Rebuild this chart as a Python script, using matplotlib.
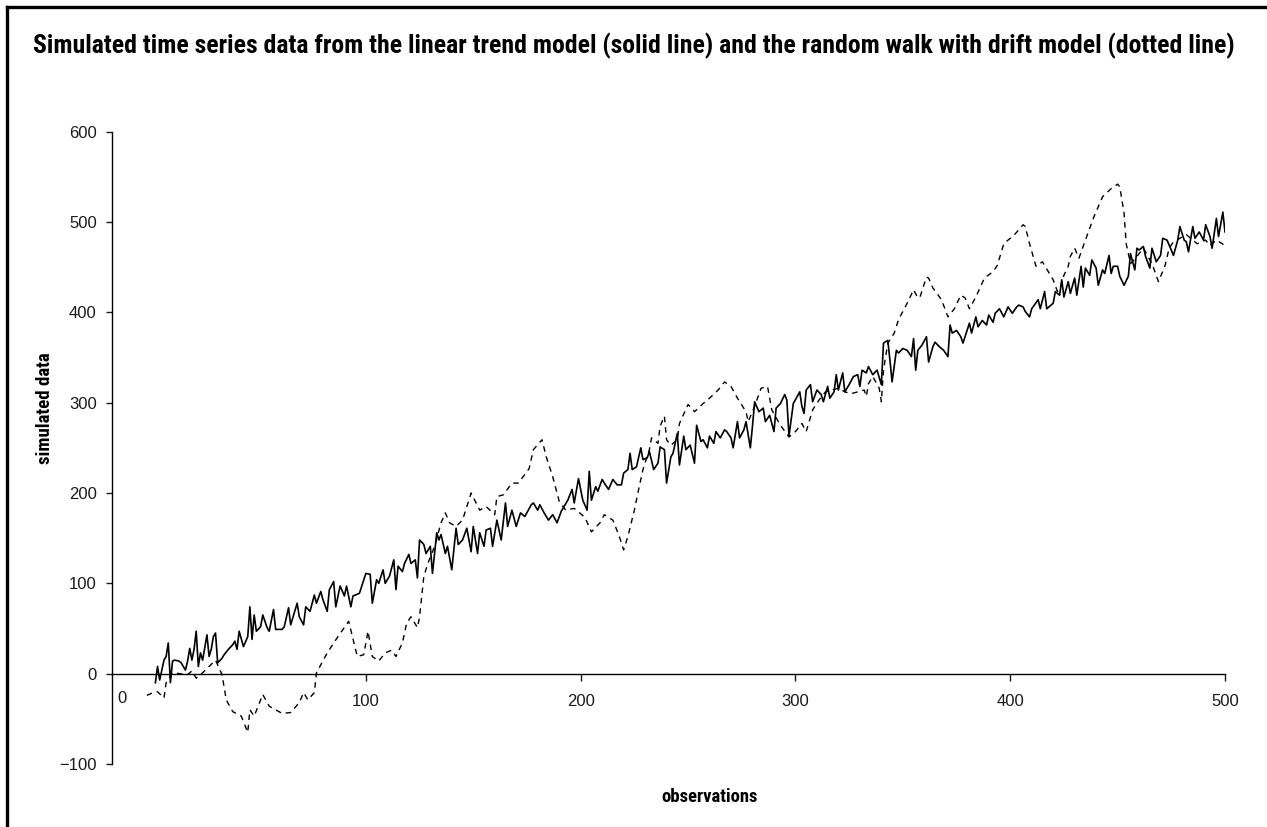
import matplotlib
matplotlib.use("Agg")
import matplotlib.pyplot as plt
from matplotlib import font_manager
from matplotlib.lines import Line2D

# values
trend_obs = [2, 3, 4, 5, 6, 7, 8, 9, 10, 11, 13, 14, 16, 17, 18, 19, 20, 21, 22, 23, 24, 26, 27, 28, 29, 30,
             31, 33, 34, 36, 38, 39, 40, 41, 43, 45, 46, 47, 48, 49, 51, 52, 54, 55, 57, 58, 61, 62, 64, 65,
             68, 69, 71, 72, 74, 76, 77, 79, 80, 82, 83, 85, 86, 88, 90, 91, 93, 94, 97,
             100, 102, 103, 105, 106, 108, 109, 111, 113, 114, 115, 117, 118, 120, 121, 123, 124, 125, 127,
             128, 130, 131, 133, 134, 135, 137, 138, 140, 142, 143, 145, 147, 149, 150, 152, 153, 155, 156,
             158, 159, 161, 163, 165, 166, 168, 170, 172, 174, 177, 178, 180, 181, 183, 185, 187, 189, 191,
             194, 196, 197, 199,
             201, 203, 204, 205, 207, 208, 210, 211, 213, 215, 217, 219, 220, 222, 223, 224, 226, 228, 229,
             231, 232, 234, 236, 237, 239, 240, 242, 243, 245, 246, 248, 249, 251, 253, 254, 256, 257, 259,
             260, 262, 263, 265, 267, 268, 270, 271, 273, 274, 276, 277, 279, 280, 281, 283, 285, 286, 288,
             290, 291, 293, 295, 296, 297, 299,
             302, 303, 304, 305, 307, 308, 310, 312, 313, 315, 316, 318, 319, 320, 322, 323, 325, 327, 329,
             330, 331, 333, 334, 336, 338, 340, 341, 343, 344, 345, 347, 348, 350, 352, 354, 355, 356, 357,
             359, 361, 362, 364, 365, 367, 369, 371, 372, 373, 375, 377, 378, 381, 382, 384, 385, 387, 389,
             390, 392, 393, 395, 397,
             399, 401, 403, 404, 406, 407, 409, 410, 413, 414, 416, 417, 420, 421, 423, 424, 425, 427, 428,
             430, 431, 433, 434, 435, 437, 438, 440, 441, 443, 444, 446, 447, 448, 450, 451, 453, 455, 456,
             458, 459, 460, 462, 463, 465, 466, 468, 470, 471, 473, 475, 476, 478, 479, 481, 482, 483, 485,
             486, 488, 490, 491, 493, 494, 496, 497, 499, 500]
trend_vals = [-10, 8, -7, 4, 15, 19, 34, -10, 14, 15, 14, 12, 4, 14, 28, 15, 27, 47, 8, 23, 15, 43, 19, 27, 41, 45,
              12, 17, 21, 27, 32, 36, 27, 47, 30, 41, 74, 38, 65, 47, 52, 65, 51, 47, 71, 49, 49, 52, 73, 54,
              78, 63, 54, 74, 69, 87, 78, 91, 82, 69, 93, 102, 74, 97, 86, 97, 74, 86, 89,
              111, 110, 78, 104, 100, 115, 100, 108, 126, 93, 119, 113, 122, 132, 122, 126, 106, 148, 143,
              133, 141, 111, 156, 148, 154, 133, 141, 115, 161, 143, 148, 161, 135, 163, 133, 156, 141, 159,
              161, 141, 170, 148, 189, 163, 181, 163, 178, 174, 187, 189, 181, 187, 178, 170, 176, 167, 180,
              192, 204, 189, 216,
              192, 181, 224, 192, 207, 202, 215, 211, 204, 215, 209, 209, 222, 226, 244, 226, 229, 250, 237,
              239, 246, 226, 233, 251, 248, 211, 240, 244, 266, 231, 263, 248, 253, 233, 275, 257, 259, 250,
              263, 255, 268, 261, 270, 268, 261, 250, 279, 261, 270, 279, 250, 274, 301, 290, 294, 279, 286,
              268, 294, 299, 309, 303, 263, 299,
              312, 296, 288, 314, 320, 301, 314, 309, 301, 318, 305, 312, 331, 314, 333, 312, 320, 329, 331,
              318, 336, 333, 340, 331, 336, 320, 366, 369, 347, 323, 358, 355, 360, 358, 351, 371, 336, 358,
              364, 373, 345, 362, 367, 362, 358, 351, 386, 377, 380, 373, 366, 388, 377, 395, 384, 391, 386,
              397, 389, 399, 404, 395,
              406, 399, 406, 408, 406, 401, 395, 404, 414, 404, 423, 404, 410, 423, 419, 436, 417, 434, 421,
              438, 419, 451, 428, 449, 441, 458, 449, 430, 447, 443, 463, 443, 451, 451, 440, 430, 440, 465,
              447, 471, 469, 473, 462, 449, 471, 456, 463, 482, 480, 469, 463, 480, 495, 480, 478, 467, 495,
              482, 489, 480, 497, 484, 471, 504, 484, 511, 489]

walk_obs = [-2, 1, 3, 6, 7, 10, 17, 19, 21, 24, 30, 33, 35, 38, 42, 45, 46, 48, 52, 55, 61, 65, 69, 71, 73,
            76, 77, 82, 87, 92, 96, 99, 101, 103, 106, 109, 112, 114, 117, 119, 121, 124, 125, 127, 129, 132,
            135, 137, 139, 142, 145, 149, 153, 156, 160, 161, 164, 168, 171, 176, 178, 182, 184, 187, 190,
            193, 197, 202, 205, 209, 211, 215, 218, 220, 222, 225, 227, 229, 232, 233, 236, 237, 239, 240,
            242, 245, 246, 250, 253, 257, 260, 264, 267, 270, 273, 277, 278, 281, 284, 287, 289, 293, 297,
            300, 303, 305, 308, 311, 314, 317, 320, 323, 326, 329, 332, 333, 334, 336, 339, 340, 341, 343,
            346, 348, 352, 355, 357, 358, 361, 362, 364, 368, 371, 374, 377, 379, 381, 384, 388, 392, 394,
            397, 399, 402, 406, 407, 409, 412, 415, 416, 420, 422, 423, 425, 427, 428, 430, 432, 435, 439,
            443, 447, 450, 451, 453, 454, 456, 459, 462, 466, 469, 472, 474, 476, 479, 482, 487, 491, 493,
            496, 500]
walk_vals = [-24, -21, -20, -27, -10, 1, -1, 3, -5, 1, 15, -1, -29, -42, -47, -65, -40, -47, -23, -36, -44, -43,
             -32, -21, -29, -21, 1, 23, 41, 58, 19, 21, 47, 19, 14, 23, 26, 19, 34, 56, 63, 51, 63, 108, 123,
             141, 167, 178, 167, 163, 170, 200, 181, 185, 176, 196, 198, 211, 211, 227, 248, 259, 240, 218,
             191, 181, 183, 173, 157, 167, 176, 170, 152, 137, 152, 181, 204, 226, 248, 261, 255, 274, 285,
             259, 253, 259, 277, 298, 290, 299, 305, 314, 323, 318, 305, 290, 279, 296, 316, 318, 292, 275,
             262, 268, 277, 268, 292, 303, 312, 314, 316, 312, 310, 312, 314, 307, 321, 329, 316, 301, 336,
             366, 377, 392, 410, 425, 416, 417, 439, 438, 427, 414, 395, 404, 419, 416, 404, 417, 438, 445,
             452, 476, 480, 486, 497, 495, 476, 451, 456, 452, 436, 423, 425, 441, 451, 462, 471, 460, 480,
             506, 528, 537, 542, 539, 510, 476, 454, 462, 471, 454, 434, 451, 471, 478, 482, 486, 476, 480,
             474, 480, 474]

y_ticks = [-100, 0, 100, 200, 300, 400, 500, 600]
x_ticks = [100, 200, 300, 400, 500]

title = ("Simulated time series data from the linear trend model (solid line) "
         "and the random walk with drift model (dotted line)")


def condensed_bold_font():
    # look for any installed narrow / condensed bold face
    best = None
    for f in font_manager.fontManager.ttflist:
        name = (f.name + " " + f.fname).lower()
        narrow = f.stretch not in ("normal", 500) or "narrow" in name or "condensed" in name
        w = f.weight if isinstance(f.weight, int) else font_manager.weight_dict.get(f.weight, 400)
        if narrow and w >= 600 and f.style == "normal" and "mono" not in name and "serif" not in name.replace("sans", ""):
            score = 0 if "liberation" in name or "roboto" in name else 1
            if best is None or score < best[0]:
                best = (score, f.fname)
    if best:
        return font_manager.FontProperties(fname=best[1])
    return font_manager.FontProperties(family="DejaVu Sans", weight="bold")


plt.rcParams["font.family"] = ["Liberation Sans", "DejaVu Sans"]

W, H = 1267, 827
fig = plt.figure(figsize=(W / 100, H / 100), dpi=100)
ax = fig.add_axes([112 / W, 1 - 764 / H, (1225 - 112) / W, (764 - 131.7) / H])

ax.plot(trend_obs, trend_vals, color="black", lw=1.2)
ax.plot(walk_obs, walk_vals, color="black", lw=1.0, linestyle=(0, (4, 3.5)))

ax.set_xlim(-18.2, 500)
ax.set_ylim(-100, 600)
ax.spines["top"].set_visible(False)
ax.spines["right"].set_visible(False)
ax.spines["bottom"].set_position(("data", 0))
ax.spines["bottom"].set_bounds(-18.2, 500)
for s in ("left", "bottom"):
    ax.spines[s].set_linewidth(1.0)

ax.set_yticks(y_ticks)
ax.set_xticks(x_ticks)
ax.tick_params(axis="y", direction="out", length=4.5, width=1.0, pad=6.5, labelsize=12, colors="#1a1a1a")
ax.tick_params(axis="x", direction="out", length=4.8, width=1.0, pad=9.5, labelsize=12, colors="#1a1a1a")
ax.text(-13.5, -33, "0", ha="center", va="baseline", fontsize=12, color="#1a1a1a")

fp = condensed_bold_font()
t_title = fig.text(33 / W, 1 - 53 / H, title, ha="left", va="baseline", fontproperties=fp.copy())
t_ylab = fig.text(45 / W, 1 - 408 / H, "simulated data", rotation=90, ha="center", va="center",
                  fontproperties=fp.copy())
t_xlab = fig.text(710 / W, 1 - 797 / H, "observations", ha="center", va="center",
                  fontproperties=fp.copy())

# size the condensed texts so they span the same length as in the reference
fig.canvas.draw()
renderer = fig.canvas.get_renderer()
for txt, target, start in ((t_title, 1207, 14), (t_ylab, 112, 13.5), (t_xlab, 96, 13.5)):
    txt.set_fontsize(start)
    bb = txt.get_window_extent(renderer)
    length = bb.height if txt.get_rotation() else bb.width
    txt.set_fontsize(min(start * target / length, 20))

# frame lines along the top and left edge
fig.add_artist(Line2D([7 / W, 7 / W], [0, 1 - 6.5 / H], color="black", lw=2.4, transform=fig.transFigure))
fig.add_artist(Line2D([7 / W, 1], [1 - 6.5 / H, 1 - 6.5 / H], color="black", lw=2.4, transform=fig.transFigure))

fig.savefig("out.png", dpi=100)
